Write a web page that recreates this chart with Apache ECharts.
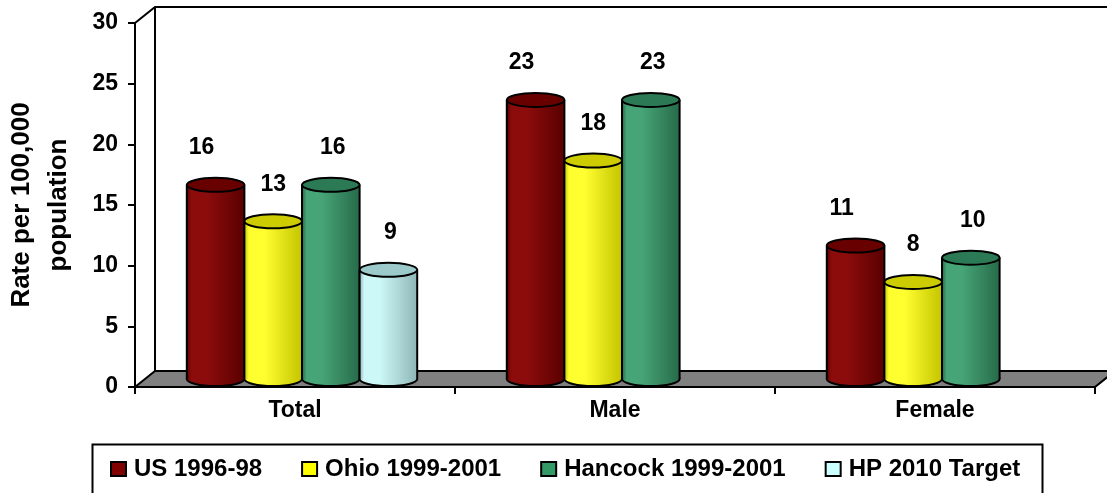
<!DOCTYPE html>
<html>
<head>
<meta charset="utf-8">
<script src="https://cdn.jsdelivr.net/npm/echarts@6/dist/echarts.min.js"></script>
<style>
  html, body { margin: 0; padding: 0; background: #fff; }
  #main { width: 1107px; height: 493px; }
</style>
</head>
<body>
<div id="main"></div>
<script>
// chart data
const categories = ['Total', 'Male', 'Female']
const seriesNames = ['US 1996-98', 'Ohio 1999-2001', 'Hancock 1999-2001', 'HP 2010 Target']
const usValues = [16, 23, 11]
const ohioValues = [13, 18, 8]
const hancockValues = [16, 23, 10]
const hpValues = [9, null, null]
const yMin = 0
const yMax = 30
const yStep = 5

const FONT = '"Liberation Sans", Arial, sans-serif'
const DX = 20, DY = -16   // 3d depth of the box

// colours: [left of body, right of body, top, legend]
const palette = [
  ['#8c0c0c', '#5a0000', '#680000', '#800000'],
  ['#ffff30', '#c4c400', '#cccc00', '#ffff00'],
  ['#46a476', '#276a4a', '#2c7a55', '#339966'],
  ['#cdf8f8', '#8fb6b6', '#9cc9c9', '#ccffff'],
]
const labelShift = [-14, 0, 2, 2]

function cylinder(si) {
  return function (params, api) {
    const ci = api.value(0)
    const v = api.value(1)
    const band = api.size([1, 0])[0]
    const w = band * 0.18
    const cx = api.coord([ci, 0])[0]
    const left = cx - 2 * w + si * w + 7
    const ry = 7
    const top = api.coord([ci, v])[1] - 8
    const bot = api.coord([ci, 0])[1] - 8
    const c = palette[si]
    const grad = new echarts.graphic.LinearGradient(0, 0, 1, 0, [
      { offset: 0, color: c[1] },
      { offset: 0.08, color: c[0] },
      { offset: 0.35, color: c[0] },
      { offset: 1, color: c[1] },
    ])
    return {
      type: 'group',
      children: [
        { type: 'ellipse', shape: { cx: left + w / 2, cy: bot, rx: w / 2, ry: ry }, style: { fill: grad, stroke: '#000', lineWidth: 2 } },
        { type: 'rect', shape: { x: left, y: top, width: w, height: bot - top }, style: { fill: grad } },
        { type: 'line', shape: { x1: left, y1: top, x2: left, y2: bot }, style: { stroke: '#000', lineWidth: 2 } },
        { type: 'line', shape: { x1: left + w, y1: top, x2: left + w, y2: bot }, style: { stroke: '#000', lineWidth: 2 } },
        { type: 'ellipse', shape: { cx: left + w / 2, cy: top, rx: w / 2, ry: ry }, style: { fill: c[2], stroke: '#000', lineWidth: 2 } },
        { type: 'text', style: { text: String(v), x: left + w / 2 + labelShift[si], y: top - 37, fill: '#000', font: 'bold 23px ' + FONT, align: 'center', verticalAlign: 'middle' } },
      ],
    }
  }
}

function frame(params) {
  const cs = params.coordSys
  const x = cs.x, y = cs.y, w = cs.width, h = cs.height
  return {
    type: 'group',
    children: [
      { type: 'polyline', shape: { points: [[x, y], [x + DX, y + DY], [x + w + DX, y + DY]] }, style: { stroke: '#000', lineWidth: 2, fill: null } },
      { type: 'line', shape: { x1: x + DX, y1: y + DY, x2: x + DX, y2: y + h + DY }, style: { stroke: '#000', lineWidth: 2 } },
      { type: 'polygon', shape: { points: [[x, y + h], [x + DX, y + h + DY], [x + w + DX, y + h + DY], [x + w, y + h]] }, style: { fill: '#808080', stroke: '#000', lineWidth: 2 } },
    ],
  }
}

const allValues = [usValues, ohioValues, hancockValues, hpValues]
const series = [{
  type: 'custom', name: 'frame', z: 1, silent: true,
  renderItem: frame, data: [[0, 0]],
}]
allValues.forEach(function (vals, si) {
  series.push({
    type: 'custom',
    name: seriesNames[si],
    z: 3,
    renderItem: cylinder(si),
    itemStyle: { color: palette[si][3], borderColor: '#000', borderWidth: 2 },
    data: vals.map(function (v, i) { return [i, v] }).filter(function (d) { return d[1] != null }),
  })
})

const myChart = echarts.init(document.getElementById('main'))
const option = {
  animation: false,
  backgroundColor: '#fff',
  grid: { left: 135, right: 12, top: 23, bottom: 106, outerBoundsMode: 'none', containLabel: false },
  xAxis: {
    type: 'category',
    data: categories,
    axisLine: { lineStyle: { color: '#000', width: 2 } },
    axisTick: { show: true, length: 7, lineStyle: { color: '#000', width: 2 } },
    axisLabel: { color: '#000', fontWeight: 'bold', fontSize: 23, fontFamily: FONT, margin: 12 },
  },
  yAxis: {
    type: 'value',
    min: yMin, max: yMax, interval: yStep,
    name: 'Rate per 100,000\npopulation',
    nameLocation: 'middle',
    nameRotate: 90,
    nameGap: 58,
    nameTextStyle: { color: '#000', fontWeight: 'bold', fontSize: 26, fontFamily: FONT, lineHeight: 37 },
    axisLine: { show: true, lineStyle: { color: '#000', width: 2 } },
    axisTick: { show: true, length: 7, lineStyle: { color: '#000', width: 2 } },
    axisLabel: { color: '#000', fontWeight: 'bold', fontSize: 23, fontFamily: FONT, margin: 17 },
    splitLine: { show: false },
  },
  legend: {
    data: seriesNames,
    left: 105, top: 452,
    itemGap: 39, itemWidth: 15, itemHeight: 14,
    icon: 'rect',
    itemStyle: { borderColor: '#000', borderWidth: 2 },
    textStyle: { color: '#000', fontWeight: 'bold', fontSize: 24, fontFamily: FONT, padding: [0, 0, 0, 3] },
  },
  graphic: [{
    type: 'rect', left: 90, top: 442, silent: true,
    shape: { width: 950, height: 60 },
    style: { fill: null, stroke: '#000', lineWidth: 2 },
  }],
  series: series,
}
option && myChart.setOption(option)
</script>
</body>
</html>
